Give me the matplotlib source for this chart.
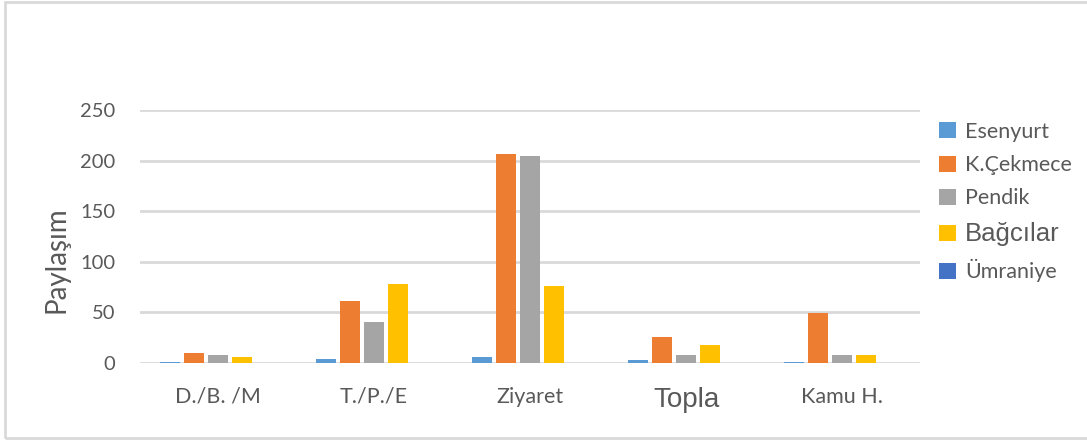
import numpy as np
import matplotlib.pyplot as plt
from matplotlib.patches import Rectangle

# data
kategoriler = ["D./B. /M", "T./P./E", "Ziyaret", "Topla", "Kamu H."]
seriler = ["Esenyurt", "K.Çekmece", "Pendik", "Bağcılar", "Ümraniye"]
esenyurt = [1, 4, 6, 3, 1]
kcekmece = [10, 61, 207, 26, 49]
pendik = [8, 41, 205, 8, 8]
bagcilar = [6, 78, 76, 18, 8]
umraniye = [0, 0, 0, 0, 0]
renkler = ["#5B9BD5", "#ED7D31", "#A5A5A5", "#FFC000", "#4472C4"]

degerler = [esenyurt, kcekmece, pendik, bagcilar, umraniye]

fig = plt.figure(figsize=(10.87, 4.4), dpi=100)
ax = fig.add_axes([140/1087, 1-363/440, 780/1087, 253/440])

x = np.arange(len(kategoriler))
w = 0.128
step = 0.154
for i in range(len(seriler)):
    ax.bar(x + (i-2)*step, degerler[i], width=w, color=renkler[i], label=seriler[i], zorder=3)

ax.set_xlim(-0.5, 4.5)
ax.set_ylim(0, 250)
ax.set_yticks([0, 50, 100, 150, 200, 250])
ax.yaxis.grid(True, color="#D9D9D9", linewidth=2, zorder=0)
for s in ax.spines.values():
    s.set_visible(False)
ax.tick_params(axis="both", length=0, colors="#595959")
ax.tick_params(axis="y", labelsize=14.5, pad=18)
for t in ax.get_yticklabels():
    t.set_fontfamily("Lato")

ax.set_xticks(x)
ax.set_xticklabels(kategoriler)
for t in ax.get_xticklabels():
    if t.get_text() == "Topla":
        t.set_fontfamily("Liberation Sans")
        t.set_fontsize(20)
    else:
        t.set_fontfamily("Lato")
        t.set_fontsize(15.5)
ax.tick_params(axis="x", pad=17)

fig.text(56/1087, 1-260/440, "Paylaşım", rotation=90, fontsize=20, color="#595959",
         family="Lato", ha="center", va="center")

leg = ax.legend(loc="upper left", bbox_to_anchor=(1.0, 1.03), frameon=False,
                handlelength=0.75, handleheight=0.75, handletextpad=0.45, labelspacing=0.62,
                prop={"family": "Lato", "size": 15.5})
for t in leg.get_texts():
    t.set_color("#595959")
    if t.get_text() == "Bağcılar":
        t.set_fontfamily("Liberation Sans")
        t.set_fontsize(18.5)

fig.patches.append(Rectangle((5/1087, 2/440), 1.1, 1-4/440, transform=fig.transFigure,
                             fill=False, edgecolor="#D9D9D9", linewidth=2))

fig.savefig("out.png", dpi=100)
